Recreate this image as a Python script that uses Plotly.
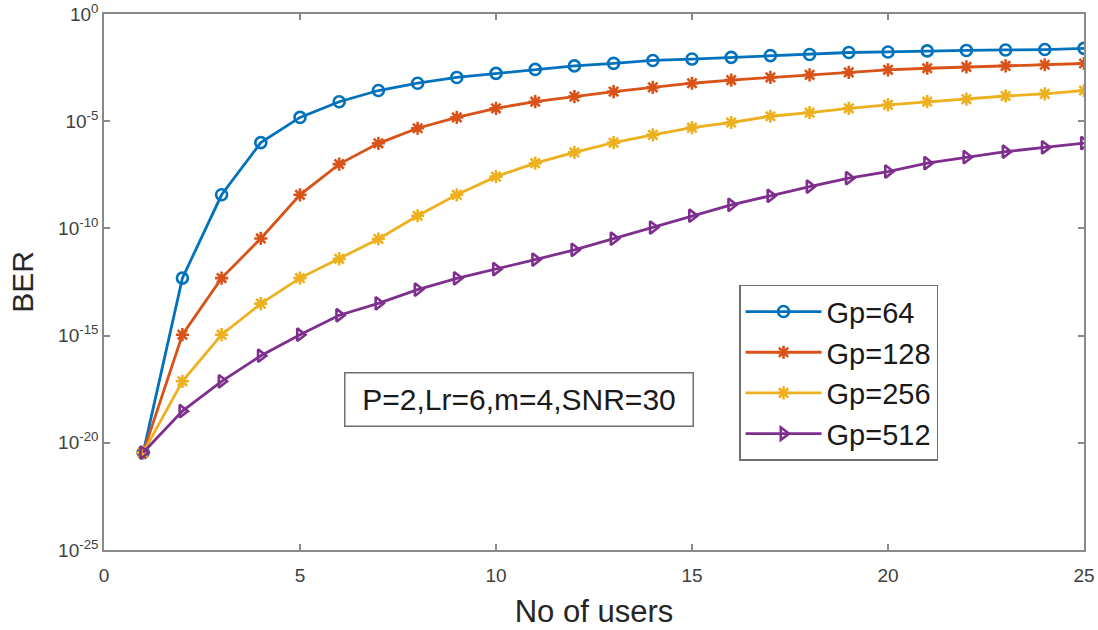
import plotly.graph_objects as go

users = list(range(1, 26))

ber_gp64 = [3.5e-21, 4.8e-13, 3.7e-9, 1.0e-6, 1.5e-5, 8.1e-5, 2.7e-4, 5.9e-4, 1.1e-3, 1.7e-3,
            2.6e-3, 3.8e-3, 5.0e-3, 6.8e-3, 7.9e-3, 9.5e-3, 1.15e-2, 1.3e-2, 1.6e-2, 1.7e-2,
            1.9e-2, 2.0e-2, 2.1e-2, 2.2e-2, 2.5e-2]
ber_gp128 = [3.5e-21, 1.1e-15, 4.8e-13, 3.4e-11, 3.7e-9, 1.0e-7, 9.3e-7, 4.7e-6, 1.5e-5, 4.0e-5,
             8.1e-5, 1.4e-4, 2.4e-4, 3.8e-4, 5.9e-4, 8.3e-4, 1.1e-3, 1.45e-3, 1.9e-3, 2.5e-3,
             2.95e-3, 3.4e-3, 3.8e-3, 4.3e-3, 4.9e-3]
ber_gp256 = [3.5e-21, 7.4e-18, 1.1e-15, 3.1e-14, 4.8e-13, 3.8e-12, 3.2e-11, 3.9e-10, 3.7e-9, 2.6e-8,
             1.1e-7, 3.5e-7, 1.0e-6, 2.3e-6, 5.0e-6, 8.7e-6, 1.7e-5, 2.5e-5, 4.0e-5, 5.8e-5,
             8.1e-5, 1.07e-4, 1.5e-4, 1.9e-4, 2.7e-4]
ber_gp512 = [3.5e-21, 3.0e-19, 7.4e-18, 1.15e-16, 1.1e-15, 8.9e-15, 3.2e-14, 1.4e-13, 4.7e-13, 1.26e-12,
             3.5e-12, 1.0e-11, 3.3e-11, 1.1e-10, 3.9e-10, 1.26e-9, 3.3e-9, 8.9e-9, 2.2e-8, 4.5e-8,
             1.1e-7, 2.1e-7, 3.8e-7, 6.0e-7, 9.5e-7]

series_names = ["Gp=64", "Gp=128", "Gp=256", "Gp=512"]
series_data = [ber_gp64, ber_gp128, ber_gp256, ber_gp512]
colors = ["#0072BD", "#D95319", "#EDB120", "#7E2F8E"]
symbols = ["circle-open", "asterisk-open", "asterisk-open", "triangle-right-open"]

x_ticks = [0, 5, 10, 15, 20, 25]
y_tick_vals = [1e0, 1e-5, 1e-10, 1e-15, 1e-20, 1e-25]
y_tick_text = ["10<sup>0</sup>", "10<sup>-5</sup>", "10<sup>-10</sup>", "10<sup>-15</sup>",
               "10<sup>-20</sup>", "10<sup>-25</sup>"]

fig = go.Figure()
for name, vals, col, sym in zip(series_names, series_data, colors, symbols):
    fig.add_trace(go.Scatter(
        x=users, y=vals, name=name, mode="lines+markers",
        line=dict(color=col, width=2.8),
        marker=dict(symbol=sym, size=11, color=col, line=dict(color=col, width=2.6)),
    ))

axis_col = "#8a8a8a"
font_fam = "Liberation Sans, Arial, sans-serif"

fig.update_layout(
    width=1098, height=630,
    margin=dict(l=104, r=14, t=14, b=80),
    paper_bgcolor="white", plot_bgcolor="white",
    font=dict(family=font_fam, color="#262626"),
    showlegend=True,
    legend=dict(
        x=0.648, y=0.495, xanchor="left", yanchor="top",
        bgcolor="white", bordercolor="#707070", borderwidth=1.5,
        font=dict(size=29, color="#1a1a1a", family=font_fam),
        itemwidth=76,
    ),
    annotations=[dict(
        xref="paper", yref="paper", x=0.423, y=0.2805,
        xanchor="center", yanchor="middle",
        text="P=2,Lr=6,m=4,SNR=30", showarrow=False,
        font=dict(size=30, color="#1a1a1a", family=font_fam),
        width=343, height=48, borderpad=2,
        bordercolor="#707070", borderwidth=1.5, bgcolor="white",
    )],
)

fig.update_xaxes(
    range=[0, 25], tickvals=x_ticks, ticktext=[str(v) for v in x_ticks],
    showgrid=False, zeroline=False, automargin=False, ticklabeloverflow="allow",
    showline=True, linecolor=axis_col, linewidth=1.5, mirror="ticks",
    ticks="inside", ticklen=6, tickcolor=axis_col, tickwidth=1.5,
    tickfont=dict(size=19, color="#404040"), ticklabelstandoff=7,
    title=dict(text="No of users", font=dict(size=31, color="#262626"), standoff=16),
)
fig.update_yaxes(
    type="log", range=[-25, 0], tickvals=y_tick_vals, ticktext=y_tick_text,
    showgrid=False, zeroline=False, automargin=False, ticklabeloverflow="allow",
    showline=True, linecolor=axis_col, linewidth=1.5, mirror="ticks",
    ticks="inside", ticklen=6, tickcolor=axis_col, tickwidth=1.5,
    tickfont=dict(size=19, color="#404040"),
    title=dict(text="BER", font=dict(size=30, color="#262626"), standoff=16),
)

# remove the default 8px page margin so the figure fills the window exactly
fig.write_html("out.html", config={"displayModeBar": False},
               post_script="document.body.style.margin='0';")
